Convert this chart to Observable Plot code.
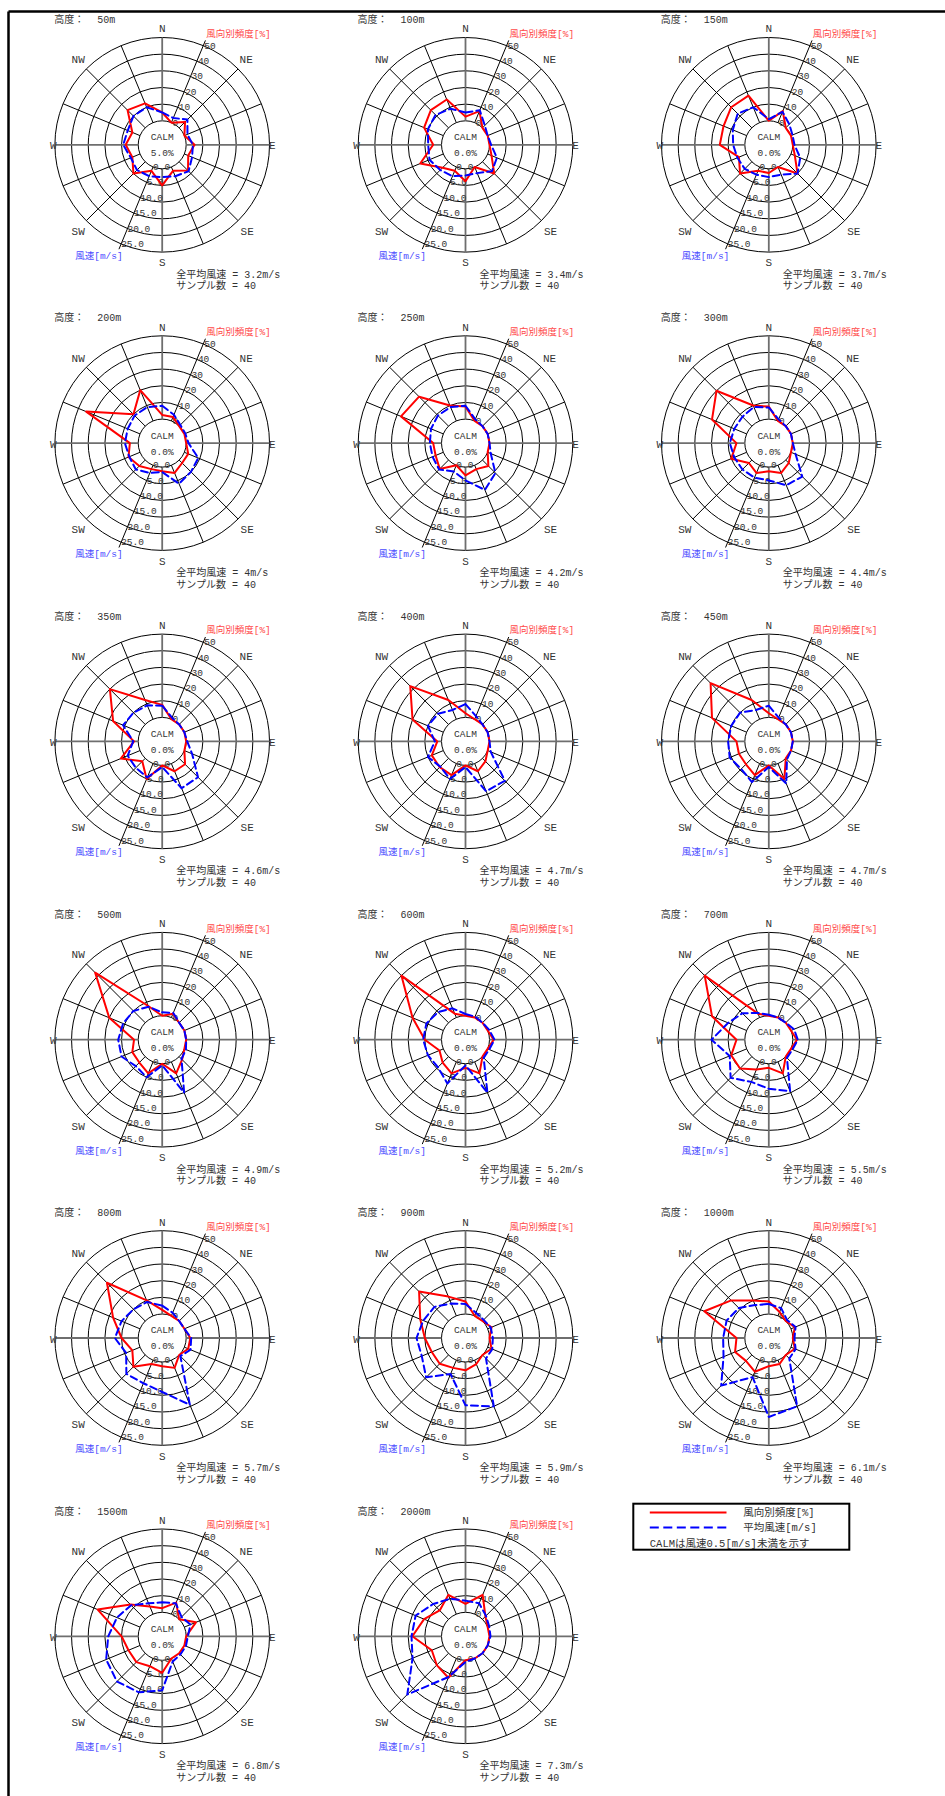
<!DOCTYPE html>
<html>
<head>
<meta charset="utf-8">
<script src="https://cdn.jsdelivr.net/npm/d3@7"></script>
<script src="https://cdn.jsdelivr.net/npm/@observablehq/plot@0.6"></script>
<style>
  html, body { margin: 0; padding: 0; background: #fff; }
  #chart svg { display: block; }
</style>
</head>
<body>
<div id="chart"></div>
<script>
// ---------------- DATA ----------------
const directions = ["N","NNE","NE","ENE","E","ESE","SE","SSE","S","SSW","SW","WSW","W","WNW","NW","NNW"];
const altitudes = ["50m","100m","150m","200m","250m","300m","350m","400m","450m","500m","600m","700m","800m","900m","1000m","1500m","2000m"];
const calmPercent = [5.0,0,0,0,0,0,0,0,0,0,0,0,0,0,0,0,0];
const meanSpeed = ["3.2","3.4","3.7","4","4.2","4.4","4.6","4.7","4.7","4.9","5.2","5.5","5.7","5.9","6.1","6.8","7.3"];
const sampleSize = [40,40,40,40,40,40,40,40,40,40,40,40,40,40,40,40,40];
const freqTicks = [0,10,20,30,40,50];
const speedTicks = [0,5,10,15,20,25];
const compassLabels = ["N","NE","E","SE","S","SW","W","NW"];

// frequency [%] per direction (N, NNE, ..., NNW)
const freq_50m   = [5,0,5,0,5,2.5,7.5,2.5,10,2.5,10,5,7.5,5,15,12.5];
const freq_100m  = [2.5,7.5,0,0,0,2.5,10,0,7.5,2.5,5,15,5,12.5,15,15];
const freq_150m  = [0,7.5,0,0,0,2.5,10,0,2.5,2.5,10,5,15,15,17.5,17.5];
const freq_200m  = [2.5,2.5,0,0,0,2.5,2.5,5,2.5,2.5,5,7.5,5,35,10,20];
const freq_250m  = [7.5,0,0,0,0,0,5,2.5,5,0,7.5,5,5,27.5,25,10];
const freq_300m  = [7.5,0,0,0,0,0,2.5,5,2.5,5,2.5,10,5,22.5,30,10];
const freq_350m  = [7.5,0,0,0,0,0,5,5,0,10,2.5,12.5,2.5,17.5,30,12.5];
const freq_400m  = [2.5,0,0,0,0,0,2.5,5,0,7.5,7.5,7.5,2.5,20,32.5,12.5];
const freq_450m  = [2.5,0,0,0,0,0,0,10,0,7.5,5,5,5,22.5,35,12.5];
const freq_500m  = [0,2.5,0,0,0,0,2.5,7.5,0,7.5,5,5,2.5,20,42.5,7.5];
const freq_600m  = [0,0,0,0,2.5,0,0,7.5,2.5,7.5,5,2.5,10,20,40,2.5];
const freq_700m  = [0,0,0,0,2.5,0,0,7.5,2.5,5,10,10,5,22.5,40,2.5];
const freq_800m  = [2.5,0,0,0,2.5,2.5,0,5,2.5,2.5,10,5,10,17.5,32.5,10];
const freq_900m  = [7.5,0,0,2.5,0,2.5,0,2.5,5,5,7.5,7.5,10,15,25,12.5];
const freq_1000m = [7.5,2.5,0,2.5,0,2.5,0,2.5,2.5,7.5,5,7.5,5,27.5,17.5,10];
const freq_1500m = [2.5,7.5,0,7.5,0,0,0,0,7.5,5,7.5,7.5,10,27.5,12.5,5];
const freq_2000m = [5,12.5,2.5,0,0,0,0,0,0,12.5,10,7.5,17.5,12.5,7.5,12.5];

// mean wind speed [m/s] per direction (N, NNE, ..., NNW)
const speed_50m   = [2.5,1.5,3.5,1,2,2.5,4,3,2.5,3,3.5,3,4.5,4,5,5];
const speed_100m  = [2.5,4,1,0,0.5,3,4,2,2,3,3.5,4.5,4,5,5.5,4.5];
const speed_150m  = [0.5,3.5,1.5,0.5,0.5,3,5,2.5,2.5,2.5,3,3,3.5,4.5,6,5];
const speed_200m  = [4,2,0.5,0.3,0.7,4.5,5,6,1.5,2.5,4,3.5,4,4,4.5,4.5];
const speed_250m  = [4,0.5,0,0,0,1,5.5,8,4,2,4,3.5,3.5,4,4.5,4.5];
const speed_300m  = [3.5,0.5,0,0,0,1.5,7,6.5,4,4,4,4,4.5,4,4,4.5];
const speed_350m  = [3.5,0.5,0,0,0.3,2.5,8,8,0.5,4.5,4,4,1.5,5.5,5,4.5];
const speed_400m  = [4,1,0,0,0,1,9.5,9,0.5,5,3.5,5,2,5,4.5,3];
const speed_450m  = [3.5,0.5,0,0,0,0,0.5,6.5,0.5,6,4.5,5.5,5,5,5,3];
const speed_500m  = [1,1.5,0,0,0,0.5,1,10,0.5,5,4,6,6,5.5,5,3.5];
const speed_600m  = [0.5,0.3,0,0.5,1.5,0.5,0.5,10,0.5,7,4.5,5,5.5,5.5,4.5,3];
const speed_700m  = [0.3,0,0,1,1.5,0.5,0.5,9.5,7.5,6.5,9,5.5,10,6,4,1.5];
const speed_800m  = [2.5,1,0,0,1.5,2,0.5,14.5,9,7.5,8,4.5,7,6,5,4.5];
const speed_900m  = [3,1,0.5,1,1,1.5,1.5,15,13,4.5,9.5,7,7.5,6.5,6,4];
const speed_1000m = [3,2.5,0.5,1.5,0.5,1.5,1.5,15,16.5,5.5,13,7.5,6.5,6.5,5.5,3.5];
const speed_1500m = [3,3.5,1,2,0.5,0.5,0.5,1,9,11,12,11,9,7.5,6,3.5];
const speed_2000m = [3.5,3.5,1.5,0.5,0.3,0,0,0,0.5,6,17.5,10,9,9,6.5,5];

const freqSeries = [freq_50m,freq_100m,freq_150m,freq_200m,freq_250m,freq_300m,freq_350m,freq_400m,freq_450m,freq_500m,freq_600m,freq_700m,freq_800m,freq_900m,freq_1000m,freq_1500m,freq_2000m];
const speedSeries = [speed_50m,speed_100m,speed_150m,speed_200m,speed_250m,speed_300m,speed_350m,speed_400m,speed_450m,speed_500m,speed_600m,speed_700m,speed_800m,speed_900m,speed_1000m,speed_1500m,speed_2000m];

// ---------------- LAYOUT ----------------
const R0 = 24, R1 = 107.3;
const rFreq = d3.scaleLinear([0, 50], [R0, R1]);
const rSpeed = d3.scaleLinear([0, 25], [R0, R1]);
const cxOf = i => 161.7 + 303.3 * (i % 3);
const cyOf = i => 144.3 + 298.3 * Math.floor(i / 3);
const ang = k => k * Math.PI / 8;
const px = (i, k, r) => cxOf(i) + r * Math.sin(ang(k));
const py = (i, k, r) => cyOf(i) - r * Math.cos(ang(k));

const FONT = "'Liberation Mono','Noto Sans CJK JP',monospace";
const TXT = "#333";

const roseIdx = altitudes.map((_, i) => i);

// points of the two polygons
const freqPts = roseIdx.flatMap(i => directions.map((d, k) => ({i, k, v: freqSeries[i][k]})));
const speedPts = roseIdx.flatMap(i => directions.map((d, k) => ({i, k, v: speedSeries[i][k]})));

// rings
const rings = roseIdx.flatMap(i => freqTicks.map(t => ({i, r: rFreq(t)})));

// spokes
const spokes = roseIdx.flatMap(i => directions.map((d, k) => {
  const outer = (k === 1 || k === 9) ? 113 : R1;
  return {i, k, main: k % 4 === 0, r1: R0, r2: outer};
}));

// compass labels
const compassPos = [
  {dx: 0, dy: -116, a: "middle"}, {dx: 84, dy: -85, a: "middle"},
  {dx: 110, dy: 1, a: "start"}, {dx: 85, dy: 86.4, a: "middle"},
  {dx: 0, dy: 118, a: "middle"}, {dx: -84, dy: 86.4, a: "middle"},
  {dx: -109, dy: 1, a: "end"}, {dx: -84, dy: -85, a: "middle"}
];
const compassData = roseIdx.flatMap(i => compassLabels.map((lab, j) => ({i, lab, ...compassPos[j]})));

const freqTickData = roseIdx.flatMap(i => freqTicks.map(t => ({i, t})));
const speedTickData = roseIdx.flatMap(i => speedTicks.map(t => ({i, t})));

const textMark = (data, opts) => Plot.text(data, {fontFamily: FONT, fill: TXT, ...opts});

const chart = Plot.plot({
  width: 945,
  height: 1796,
  margin: 0,
  x: {type: "identity", axis: null},
  y: {type: "identity", axis: null},
  r: {type: "identity"},
  style: {fontFamily: FONT, background: "#fff"},
  marks: [
    // page frame (top and left edges)
    Plot.link([0], {x1: 8, y1: 11, x2: 945, y2: 11, stroke: "#000", strokeWidth: 2.5}),
    Plot.link([0], {x1: 8, y1: 11, x2: 8, y2: 1796, stroke: "#000", strokeWidth: 2.5}),

    // rings
    Plot.dot(rings, {x: d => cxOf(d.i), y: d => cyOf(d.i), r: "r", stroke: "#000", strokeWidth: 1, fill: "none"}),
    // spokes
    Plot.link(spokes.filter(d => !d.main), {
      x1: d => px(d.i, d.k, d.r1), y1: d => py(d.i, d.k, d.r1),
      x2: d => px(d.i, d.k, d.r2), y2: d => py(d.i, d.k, d.r2),
      stroke: "#000", strokeWidth: 1
    }),
    Plot.link(spokes.filter(d => d.main), {
      x1: d => px(d.i, d.k, d.r1), y1: d => py(d.i, d.k, d.r1),
      x2: d => px(d.i, d.k, d.r2), y2: d => py(d.i, d.k, d.r2),
      stroke: "#6e6e6e", strokeWidth: 1.8
    }),

    // radial tick labels
    textMark(freqTickData, {
      x: d => px(d.i, 1, rFreq(d.t)) + 1, y: d => py(d.i, 1, rFreq(d.t)),
      text: d => String(d.t), textAnchor: "start", fontSize: 9.5
    }),
    textMark(speedTickData, {
      x: d => px(d.i, 9, rSpeed(d.t)), y: d => py(d.i, 9, rSpeed(d.t)),
      text: d => d.t.toFixed(1), textAnchor: "start", fontSize: 9.5
    }),

    // compass labels
    textMark(compassData, {
      x: d => cxOf(d.i) + d.dx, y: d => cyOf(d.i) + d.dy,
      text: "lab", textAnchor: d => d.a, fontSize: 11
    }),

    // titles
    textMark(roseIdx, {x: i => cxOf(i) - 108, y: i => cyOf(i) - 125, text: () => "高度：", textAnchor: "start", fontSize: 10}),
    textMark(roseIdx, {x: i => cxOf(i) - 65, y: i => cyOf(i) - 125, text: i => altitudes[i], textAnchor: "start", fontSize: 10}),
    textMark(roseIdx, {x: i => cxOf(i) + 44, y: i => cyOf(i) - 111, text: () => "風向別頻度[%]", textAnchor: "start", fontSize: 9.5, fill: "#ff4a4a"}),
    textMark(roseIdx, {x: i => cxOf(i) - 87, y: i => cyOf(i) + 111, text: () => "風速[m/s]", textAnchor: "start", fontSize: 9.5, fill: "#4a4aff"}),
    textMark(roseIdx, {x: i => cxOf(i) + 14, y: i => cyOf(i) + 129.7, text: i => `全平均風速 = ${meanSpeed[i]}m/s`, textAnchor: "start", fontSize: 10}),
    textMark(roseIdx, {x: i => cxOf(i) + 14, y: i => cyOf(i) + 141.4, text: i => `サンプル数 = ${sampleSize[i]}`, textAnchor: "start", fontSize: 10}),
    textMark(roseIdx, {x: i => cxOf(i), y: i => cyOf(i) - 7.6, text: () => "CALM", fontSize: 9.5}),
    textMark(roseIdx, {x: i => cxOf(i), y: i => cyOf(i) + 8.4, text: i => calmPercent[i].toFixed(1) + "%", fontSize: 9.5}),

    // data polygons
    Plot.line(freqPts, {
      x: d => px(d.i, d.k, rFreq(d.v)), y: d => py(d.i, d.k, rFreq(d.v)),
      z: "i", curve: "linear-closed", stroke: "#ff0000", strokeWidth: 2
    }),
    Plot.line(speedPts, {
      x: d => px(d.i, d.k, rSpeed(d.v)), y: d => py(d.i, d.k, rSpeed(d.v)),
      z: "i", curve: "linear-closed", stroke: "#0000ff", strokeWidth: 2, strokeDasharray: "7,4"
    }),

    // legend
    Plot.rect([0], {x1: 633.3, x2: 849.3, y1: 1503.7, y2: 1549.7, fill: "#fff", stroke: "#000", strokeWidth: 2}),
    Plot.link([0], {x1: 649.3, y1: 1512, x2: 726, y2: 1512, stroke: "#ff0000", strokeWidth: 2}),
    Plot.link([0], {x1: 649.3, y1: 1527, x2: 726, y2: 1527, stroke: "#0000ff", strokeWidth: 2, strokeDasharray: "9,4.5"}),
    textMark(["風向別頻度[%]"], {x: 742.7, y: 1512, text: d => d, textAnchor: "start", fontSize: 10.5}),
    textMark(["平均風速[m/s]"], {x: 742.7, y: 1527, text: d => d, textAnchor: "start", fontSize: 10.5}),
    textMark(["CALMは風速0.5[m/s]未満を示す"], {x: 649.3, y: 1543, text: d => d, textAnchor: "start", fontSize: 10.5})
  ]
});
document.getElementById("chart").append(chart);
</script>
</body>
</html>
